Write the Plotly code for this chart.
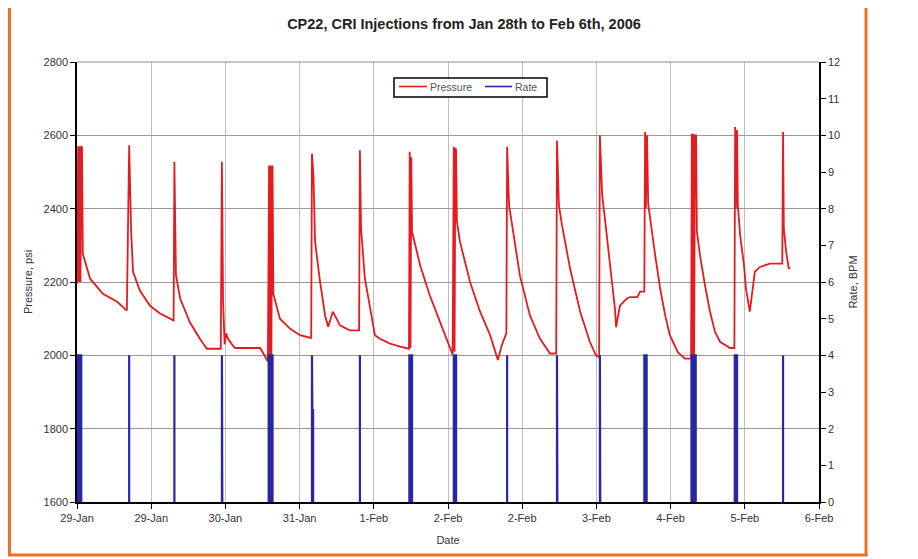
import pandas as pd
import plotly.graph_objects as go

# ---------------- data ----------------
# pressure readings: hours since 29-Jan-2006 00:00, psi
p_hours = [0.0, 0.3, 0.5, 0.7, 0.9, 1.1, 1.3, 1.5, 3.4, 6.7, 10.4, 12.9,
           13.5, 14.0, 14.5, 16.3, 18.9, 21.5, 24.1, 25.0,
           25.2, 25.6, 26.7, 29.2, 31.8, 33.6, 37.2,
           37.5, 37.8, 38.2, 38.6, 39.1, 40.1, 40.9, 47.4, 49.4,
           49.7, 49.9, 50.1, 50.3, 50.5, 50.6, 50.8, 52.5, 55.1, 57.7, 60.3, 60.6,
           60.8, 61.2, 61.6, 62.9, 64.2, 65.0, 66.2, 68.1, 70.6, 73.0,
           73.2, 73.5, 74.5, 75.8, 77.1, 78.4, 81.0, 83.6, 85.9,
           86.1, 86.3, 86.5, 86.7, 88.8, 91.3, 93.9, 96.5, 97.2,
           97.5, 97.7, 97.9, 98.1, 98.3, 99.1, 101.7, 104.3, 106.9, 108.9, 110.0, 110.8, 111.1,
           111.3, 111.8, 112.6, 114.6, 117.2, 119.8, 122.4, 124.0,
           124.2, 124.7, 125.5, 127.6, 130.2, 132.7, 134.3, 135.1,
           135.3, 135.9, 136.6, 137.9, 139.2, 139.5, 140.5, 142.3, 143.1, 145.0, 145.7, 146.8,
           147.0, 147.2, 147.5, 147.8, 148.3, 149.6, 150.9, 152.2, 153.4, 155.5, 157.3, 158.9,
           159.1, 159.3, 159.5, 159.7, 159.9, 160.2, 160.4, 161.2, 162.5, 163.8, 165.1, 166.4, 169.0, 170.1,
           170.3, 170.5, 170.7, 170.8, 171.0, 171.6, 172.6, 173.1, 174.1, 174.7, 175.4, 176.7, 178.0, 179.3, 181.9, 182.5,
           182.7, 182.9, 183.5, 184.2, 184.5]
pressure = [2195, 2570, 2200, 2570, 2200, 2570, 2568, 2277, 2209, 2168, 2146, 2122,
            2573, 2341, 2228, 2176, 2135, 2114, 2100, 2095,
            2528, 2219, 2155, 2090, 2045, 2018, 2018,
            2528, 2146, 2030, 2060, 2045, 2030, 2020, 2020, 1983,
            2518, 2000, 2518, 2000, 2515, 2515, 2168, 2100, 2073, 2055, 2048, 2048,
            2550, 2487, 2310, 2200, 2108, 2078, 2119, 2081, 2068, 2068,
            2559, 2346, 2209, 2127, 2055, 2045, 2032, 2024, 2018,
            2555, 2020, 2540, 2337, 2245, 2163, 2092, 2018, 2002,
            2569, 2010, 2565, 2560, 2365, 2310, 2200, 2119, 2055, 1987, 2030, 2055, 2060,
            2569, 2409, 2355, 2218, 2109, 2045, 2005, 2005,
            2586, 2409, 2355, 2236, 2119, 2037, 2000, 1995,
            2600, 2436, 2373, 2245, 2127, 2077, 2136, 2155, 2159, 2159, 2174, 2174,
            2609, 2400, 2600, 2413, 2373, 2273, 2182, 2109, 2055, 2008, 1991, 1991,
            2604, 2000, 2604, 2000, 2600, 2600, 2337, 2273, 2191, 2119, 2064, 2037, 2020, 2020,
            2623, 2400, 2615, 2610, 2409, 2327, 2245, 2182, 2119, 2164, 2228, 2241, 2245, 2250, 2250, 2250,
            2609, 2346, 2282, 2236, 2240]

# injection periods: start hour, end hour, rate (BPM)
inj_start = [0.2, 13.5, 25.2, 37.5, 49.6, 60.8, 73.2, 86.0, 97.5, 111.3, 124.2, 135.3, 146.8, 159.0, 170.2, 182.7]
inj_end   = [1.1, 13.5, 25.2, 37.6, 50.6, 61.1, 73.2, 86.7, 98.1, 111.3, 124.3, 135.4, 147.4, 160.1, 170.8, 182.7]
inj_rate  = [4, 4, 4, 4, 4, 2.5, 4, 4, 4, 4, 4, 4, 4, 4, 4, 4]

tick_labels = ["29-Jan", "29-Jan", "30-Jan", "31-Jan", "1-Feb", "2-Feb",
               "2-Feb", "3-Feb", "4-Feb", "5-Feb", "6-Feb"]
tick_step_hours = 19.2
left_ticks = [1600, 1800, 2000, 2200, 2400, 2600, 2800]
right_ticks = list(range(0, 13))

base = pd.Timestamp("2006-01-29 00:00")
def to_dt(h):
    return base + pd.to_timedelta(h, unit="h")

p_x = [to_dt(h) for h in p_hours]

# rate step trace (zero between injections)
r_x, r_y = [], []
for s, e, r in zip(inj_start, inj_end, inj_rate):
    if r < 4:
        r_x += [to_dt(s), to_dt(s), to_dt(s + 0.05), to_dt(s + 0.1), to_dt(e), to_dt(e), None]
        r_y += [0, 4, 4, r, r, 0, None]
    else:
        r_x += [to_dt(s), to_dt(s), to_dt(e), to_dt(e), None]
        r_y += [0, r, r, 0, None]

tickvals = [to_dt(i * tick_step_hours) for i in range(len(tick_labels))]

# figure sits 8px inside the page; everything below is in figure pixels
W, H = 910, 551
L, R, T, B = 69, 811, 54, 494

RED = "rgb(228,28,32)"
BLUE = "rgb(40,40,165)"
font = "Liberation Sans, Arial, sans-serif"

fig = go.Figure()
fig.add_trace(go.Scatter(x=p_x, y=pressure, name="Pressure", mode="lines",
                         line=dict(color=RED, width=1.8), yaxis="y", showlegend=False))
fig.add_trace(go.Scatter(x=r_x, y=r_y, name="Rate", mode="lines",
                         line=dict(color=BLUE, width=2.2), yaxis="y2",
                         fill="tozeroy", fillcolor=BLUE, connectgaps=False, showlegend=False))

def pxx(x):
    return (x - L) / (R - L)
def pxy(y):
    return (B - y) / (B - T)

ORANGE = "rgb(240,110,40)"
shapes = [
    dict(type="line", xref="paper", yref="paper", x0=pxx(905), x1=pxx(905), y0=pxy(0), y1=pxy(551),
         line=dict(color="rgb(220,220,220)", width=3)),
    dict(type="line", xref="paper", yref="paper", x0=pxx(1.5), x1=pxx(1.5), y0=pxy(-2), y1=pxy(548),
         line=dict(color=ORANGE, width=3)),
    dict(type="line", xref="paper", yref="paper", x0=pxx(858), x1=pxx(858), y0=pxy(-2), y1=pxy(548),
         line=dict(color=ORANGE, width=3)),
    dict(type="line", xref="paper", yref="paper", x0=pxx(0), x1=pxx(859.5), y0=pxy(547), y1=pxy(547),
         line=dict(color=ORANGE, width=3)),
    dict(type="line", xref="paper", yref="paper", x0=0, x1=1, y0=1, y1=1,
         line=dict(color="rgb(150,140,140)", width=1)),
    # legend box
    dict(type="rect", xref="paper", yref="paper", x0=pxx(386), x1=pxx(539), y0=pxy(70), y1=pxy(89),
         line=dict(color="black", width=1.5), fillcolor="white"),
    dict(type="line", xref="paper", yref="paper", x0=pxx(391), x1=pxx(419), y0=pxy(78.5), y1=pxy(78.5),
         line=dict(color=RED, width=1.6)),
    dict(type="line", xref="paper", yref="paper", x0=pxx(477), x1=pxx(504), y0=pxy(78.5), y1=pxy(78.5),
         line=dict(color=BLUE, width=1.6)),
]

annotations = [
    dict(text="Pressure", xref="paper", yref="paper", x=pxx(420), y=pxy(78.5),
         xanchor="left", yanchor="middle", showarrow=False,
         font=dict(size=10.5, color="#555", family=font)),
    dict(text="Rate", xref="paper", yref="paper", x=pxx(505), y=pxy(78.5),
         xanchor="left", yanchor="middle", showarrow=False,
         font=dict(size=10.5, color="#555", family=font)),
]

fig.update_layout(
    width=W, height=H,
    margin=dict(l=L, r=W - R, t=T, b=H - B),
    paper_bgcolor="white", plot_bgcolor="white",
    font=dict(family=font, size=11, color="#333"),
    title=dict(text="<b>CP22, CRI Injections from Jan 28th to Feb 6th, 2006</b>",
               x=456 / W, xanchor="center", y=1 - 16 / H, yanchor="middle",
               font=dict(size=14.5, color="#222", family=font)),
    showlegend=False,
    xaxis=dict(range=[to_dt(0), to_dt(192)], tickvals=tickvals, ticktext=tick_labels,
               showgrid=True, gridcolor="rgb(195,190,190)", gridwidth=1,
               showline=True, linecolor="black", linewidth=1.5,
               ticks="outside", ticklen=5, tickcolor="black",
               tickfont=dict(size=11),
               title=dict(text="Date", standoff=13, font=dict(size=11)),
               zeroline=False),
    yaxis=dict(range=[1600, 2800], tickvals=left_ticks,
               showgrid=True, gridcolor="rgb(160,150,150)", gridwidth=1,
               showline=True, linecolor="black", linewidth=1.5,
               ticks="outside", ticklen=5, tickcolor="black",
               tickfont=dict(size=11),
               title=dict(text="Pressure, psi", standoff=9, font=dict(size=11)),
               zeroline=False),
    yaxis2=dict(range=[0, 12], tickvals=right_ticks, overlaying="y", side="right",
                showgrid=False, showline=True, linecolor="black", linewidth=1.5,
                ticks="outside", ticklen=5, tickcolor="black",
                tickfont=dict(size=11),
                title=dict(text="Rate, BPM", standoff=10, font=dict(size=11)),
                zeroline=False),
    shapes=shapes,
    annotations=annotations,
)

fig.write_html("out.html")
